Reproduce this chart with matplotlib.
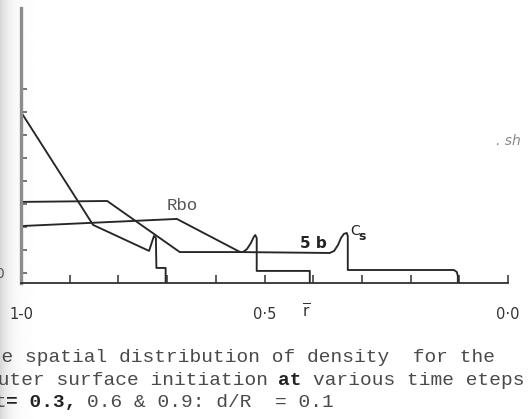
import matplotlib
matplotlib.use('Agg')
import matplotlib.pyplot as plt
import numpy as np

W, H, DPI = 532, 419, 100

# ---- data: r-bar (radius) and density (in tick units) ----
r_t03 = [1.0, 0.852, 0.737, 0.727, 0.723, 0.722, 0.703, 0.703]
rho_t03 = [7.0, 2.09, 0.96, 1.61, 1.52, 0.22, 0.22, -0.435]

r_t06 = [1.0, 0.823, 0.674, 0.544, 0.536, 0.528, 0.522, 0.519, 0.516, 0.516, 0.407, 0.407]
rho_t06 = [3.09, 3.13, 0.91, 0.91, 1.04, 1.30, 1.57, 1.65, 1.52, 0.09, 0.09, -0.435]

r_t09 = [1.0, 0.680, 0.550, 0.366, 0.357, 0.349, 0.343, 0.337, 0.331, 0.329, 0.329,
         0.111, 0.105, 0.103, 0.103]
rho_t09 = [2.04, 2.35, 0.91, 0.87, 0.96, 1.22, 1.52, 1.70, 1.74, 1.61, 0.13,
           0.13, 0.04, -0.13, -0.435]

x_ticks = [1.0, 0.9, 0.8, 0.7, 0.6, 0.5, 0.4, 0.3, 0.2, 0.1, 0.0]
x_ticklabels = ['1-0', '', '', '', '', '0·5', '', '', '', '', '0·0']
y_ticks = [0, 1, 2, 3, 4, 5, 6, 7, 8]
y_ticklabels = ['0', '', '', '', '', '', '', '', '']

# caption lines split into (text, bold) segments
caption = [
    [("The spatial distribution of density  for the", False)],
    [("outer surface initiation ", False), ("at", True), (" various time eteps", False)],
    [("t", False), ("= 0.3,", True), (" 0.6 & 0.9: d/R  = 0.1", False)],
]

fig = plt.figure(figsize=(W / DPI, H / DPI), dpi=DPI)
fig.patch.set_facecolor('white')

# scan shading at the left edge
bg = fig.add_axes([0, 0, 1, 1], zorder=-10)
xs = np.arange(W)
shade = 1 - 0.16 * np.exp(-xs / 9.0)
img = np.tile(shade, (H, 1))
bg.imshow(img, cmap='gray', vmin=0, vmax=1, aspect='auto', extent=[0, W, H, 0])
bg.set_axis_off()

ax = fig.add_axes([21 / W, (H - 283) / H, (508 - 21) / W, (283 - 8) / H])
ax.set_facecolor('none')
lc = '#262626'
lw = 1.35
ax.plot(r_t03, rho_t03, color=lc, lw=lw, solid_joinstyle='round')
ax.plot(r_t06, rho_t06, color=lc, lw=lw, solid_joinstyle='round')
ax.plot(r_t09, rho_t09, color=lc, lw=lw, solid_joinstyle='round')

ax.set_xlim(1.0, 0.0)
ax.set_ylim(-0.435, 11.52)
for s in ['top', 'right']:
    ax.spines[s].set_visible(False)
ax.spines['bottom'].set_color('#303030')
ax.spines['bottom'].set_linewidth(1.3)
ax.spines['bottom'].set_bounds(1.0, 0.0)
ax.spines['left'].set_color('#8c8c8c')
ax.spines['left'].set_linewidth(2.4)

ax.set_xticks(x_ticks)
ax.set_xticklabels(x_ticklabels, fontsize=10.5, color='#333333', family='DejaVu Sans')
ax.tick_params(axis='x', direction='in', length=5.5, width=1.1, color='#303030', pad=17)
ax.set_yticks(y_ticks)
ax.set_yticklabels(y_ticklabels, fontsize=10, color='#555555')
ax.tick_params(axis='y', direction='in', length=4.5, width=1.1, color='#505050', pad=12.5)

# annotations
ax.text(0.669, 2.95, 'Rbo', fontsize=12.5, family='Liberation Mono', color='#555555',
        ha='center', va='center')
ax.text(0.400, 1.27, '5 b', fontsize=11, fontweight='bold', color='#222222',
        ha='center', va='center')
ax.text(0.314, 1.83, 'C', fontsize=10, color='#222222', ha='center', va='center')
ax.text(0.299, 1.60, 's', fontsize=9, fontweight='bold', color='#222222', ha='center', va='center')
ax.text(0.024, 5.75, '. sh', fontsize=10, color='#888888', style='italic',
        ha='left', va='center', clip_on=False)
ax.text(0.414, -1.7, r'$\overline{\mathrm{r}}$', fontsize=11, color='#333333',
        ha='center', va='center')

# caption (monospace, typewriter)
fs = 14
cw = fs * 0.6 * DPI / 72.0  # char width in px
starts = [-22, -14, -6]
ys = [357, 380, 402]
for i, segs in enumerate(caption):
    pos = 0
    for txt, bold in segs:
        lead = len(txt) - len(txt.lstrip(' '))
        body = txt.strip(' ')
        x = starts[i] + (pos + lead) * cw
        fig.text(x / W, 1 - ys[i] / H, body, fontsize=fs, family='Liberation Mono',
                 fontweight='bold' if bold else 'normal',
                 color='#222222' if bold else '#4a4a4a', ha='left', va='center')
        pos += len(txt)

fig.savefig('out.png', dpi=DPI, facecolor='white')
